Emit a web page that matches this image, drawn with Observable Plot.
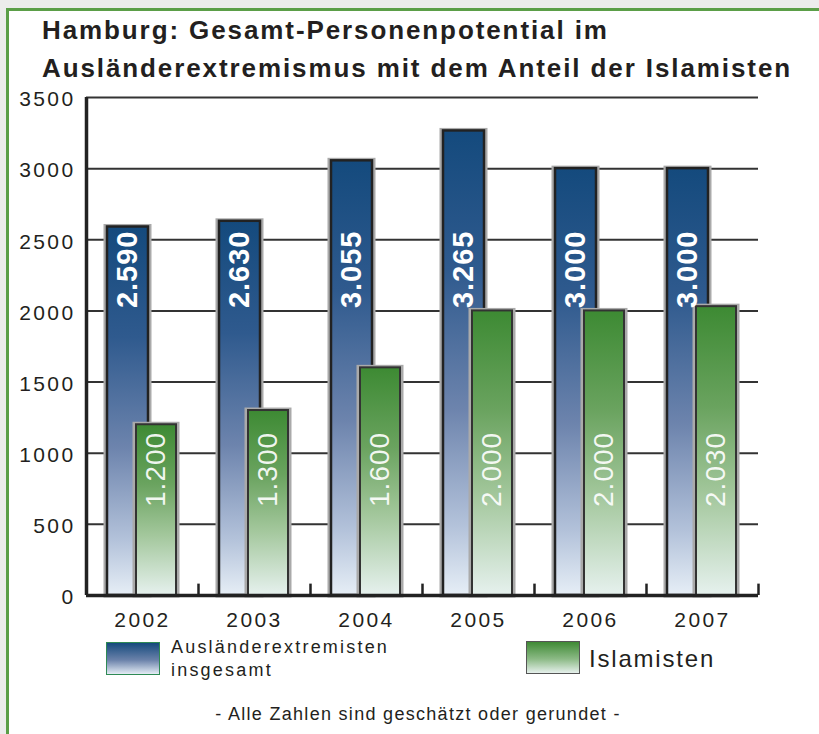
<!DOCTYPE html>
<html><head><meta charset="utf-8">
<script src="https://cdn.jsdelivr.net/npm/d3@7"></script>
<script src="https://cdn.jsdelivr.net/npm/@observablehq/plot@0.6"></script>
<style>
body{margin:0;background:#ececec;font-family:"Liberation Sans",Arial,sans-serif;}
#page{position:relative;width:819px;height:734px;overflow:hidden;background:#ececec;}
#frame{position:absolute;left:6px;top:8px;width:840px;height:760px;background:#fff;border-left:3px solid #5b9e48;border-top:3px solid #5b9e48;}
#chart{position:absolute;left:0;top:0;}
#chart svg text{letter-spacing:2.4px;}
#chart svg g.barlabel text{letter-spacing:1px;}
.title{position:absolute;left:42px;top:11px;font-weight:bold;font-size:26px;line-height:38px;color:#231f20;letter-spacing:1.9px;white-space:nowrap;}
.leg{position:absolute;color:#231f20;white-space:nowrap;}
.sw{position:absolute;width:52px;height:31px;}
.cap{position:absolute;left:0;width:836px;text-align:center;top:704px;font-size:18px;color:#231f20;letter-spacing:1.3px;}
</style></head>
<body><div id="page"><div id="frame"></div>
<div class="title">Hamburg: Gesamt-Personenpotential im<br>Ausländerextremismus mit dem Anteil der Islamisten</div>
<div id="chart"></div>
<div class="sw" style="left:106px;top:642px;border:1.5px solid #2f8a55;background:linear-gradient(#154a7d,#6b82aa 55%,#e4ecf5);"></div>
<div class="leg" style="left:171px;top:636px;font-size:18px;line-height:23px;letter-spacing:2.2px;">Ausländerextremisten<br>insgesamt</div>
<div class="sw" style="left:526px;top:641px;border:1.5px solid #555;background:linear-gradient(#3f8a35,#8cba86 55%,#e6f0ec);"></div>
<div class="leg" style="left:589px;top:645px;font-size:24px;line-height:28px;letter-spacing:1.8px;">Islamisten</div>
<div class="cap">- Alle Zahlen sind geschätzt oder gerundet -</div>
</div>
<script>
const years = ["2002","2003","2004","2005","2006","2007"];
const totals = [2590, 2630, 3055, 3265, 3000, 3000];
const islamists = [1200, 1300, 1600, 2000, 2000, 2030];
const yTicks = [0, 500, 1000, 1500, 2000, 2500, 3000, 3500];

const data = years.map((y, i) => ({year: y, total: totals[i], isl: islamists[i]}));
const de = d3.formatLocale({decimal: ",", thousands: ".", grouping: [3], currency: ["", "€"]}).format(",");

const W = 819, H = 640, mL = 86, mR = 61, mT = 97, mB = 45;
const bw = (W - mL - mR) / years.length;

const plot = Plot.plot({
  width: W, height: H,
  marginLeft: mL, marginRight: mR, marginTop: mT, marginBottom: mB,
  style: {fontFamily: "'Liberation Sans', Arial, sans-serif", color: "#231f20", background: "transparent"},
  x: {domain: years, padding: 0, label: null},
  y: {domain: [0, 3500], label: null},
  marks: [
    Plot.gridY(yTicks.filter(d => d > 0), {stroke: "#333", strokeWidth: 2, strokeOpacity: 1}),
    Plot.barY(data, {x: "year", y: "total", insetLeft: 20, insetRight: 49, fill: "none", stroke: "#aaa", strokeWidth: 5}),
    Plot.barY(data, {x: "year", y: "total", insetLeft: 21, insetRight: 50, fill: "url(#gBlue)", stroke: "#222", strokeWidth: 2.5}),
    Plot.barY(data, {x: "year", y: "isl", insetLeft: 49, insetRight: 21, fill: "none", stroke: "#aaa", strokeWidth: 5}),
    Plot.barY(data, {x: "year", y: "isl", insetLeft: 50, insetRight: 22, fill: "url(#gGreen)", stroke: "#333", strokeWidth: 2}),
    Plot.text(data, {x: "year", y: () => 2565, text: d => de(d.total), rotate: -90, textAnchor: "end", fill: "white", fontWeight: "bold", fontSize: 29, dx: -14.5, className: "barlabel"}),
    Plot.text(data, {x: "year", y: () => 1150, text: d => de(d.isl), rotate: -90, textAnchor: "end", fill: "white", fillOpacity: 0.92, fontSize: 28, dx: 14, className: "barlabel"}),
    Plot.ruleX(years, {y1: 0, y2: 80, dx: bw / 2, stroke: "#222", strokeWidth: 2.5}),
    Plot.ruleX([years[0]], {y1: 0, y2: 3500, dx: -bw / 2, stroke: "#222", strokeWidth: 3.5}),
    Plot.ruleY([0], {stroke: "#222", strokeWidth: 3.5}),
    Plot.axisY(yTicks, {tickSize: 0, tickPadding: 11, fontSize: 21, dy: 2, tickFormat: d => String(d), label: null}),
    Plot.axisX({tickSize: 0, tickPadding: 17, fontSize: 21, label: null})
  ]
});

const svg = d3.select(plot);
const defs = svg.insert("defs", ":first-child");
const gb = defs.append("linearGradient").attr("id", "gBlue").attr("x1", 0).attr("y1", 0).attr("x2", 0).attr("y2", 1);
[[0, "#144a7d"], [0.3, "#2f5a8e"], [0.6, "#6d84ad"], [0.85, "#b3c2da"], [1, "#e6eef6"]].forEach(([o, c]) => gb.append("stop").attr("offset", o).attr("stop-color", c));
const gg = defs.append("linearGradient").attr("id", "gGreen").attr("x1", 0).attr("y1", 0).attr("x2", 0).attr("y2", 1);
[[0, "#3d8a33"], [0.35, "#6aa35f"], [0.65, "#a3c79c"], [1, "#e6f1ee"]].forEach(([o, c]) => gg.append("stop").attr("offset", o).attr("stop-color", c));

document.getElementById("chart").appendChild(plot);
</script>
</body></html>
